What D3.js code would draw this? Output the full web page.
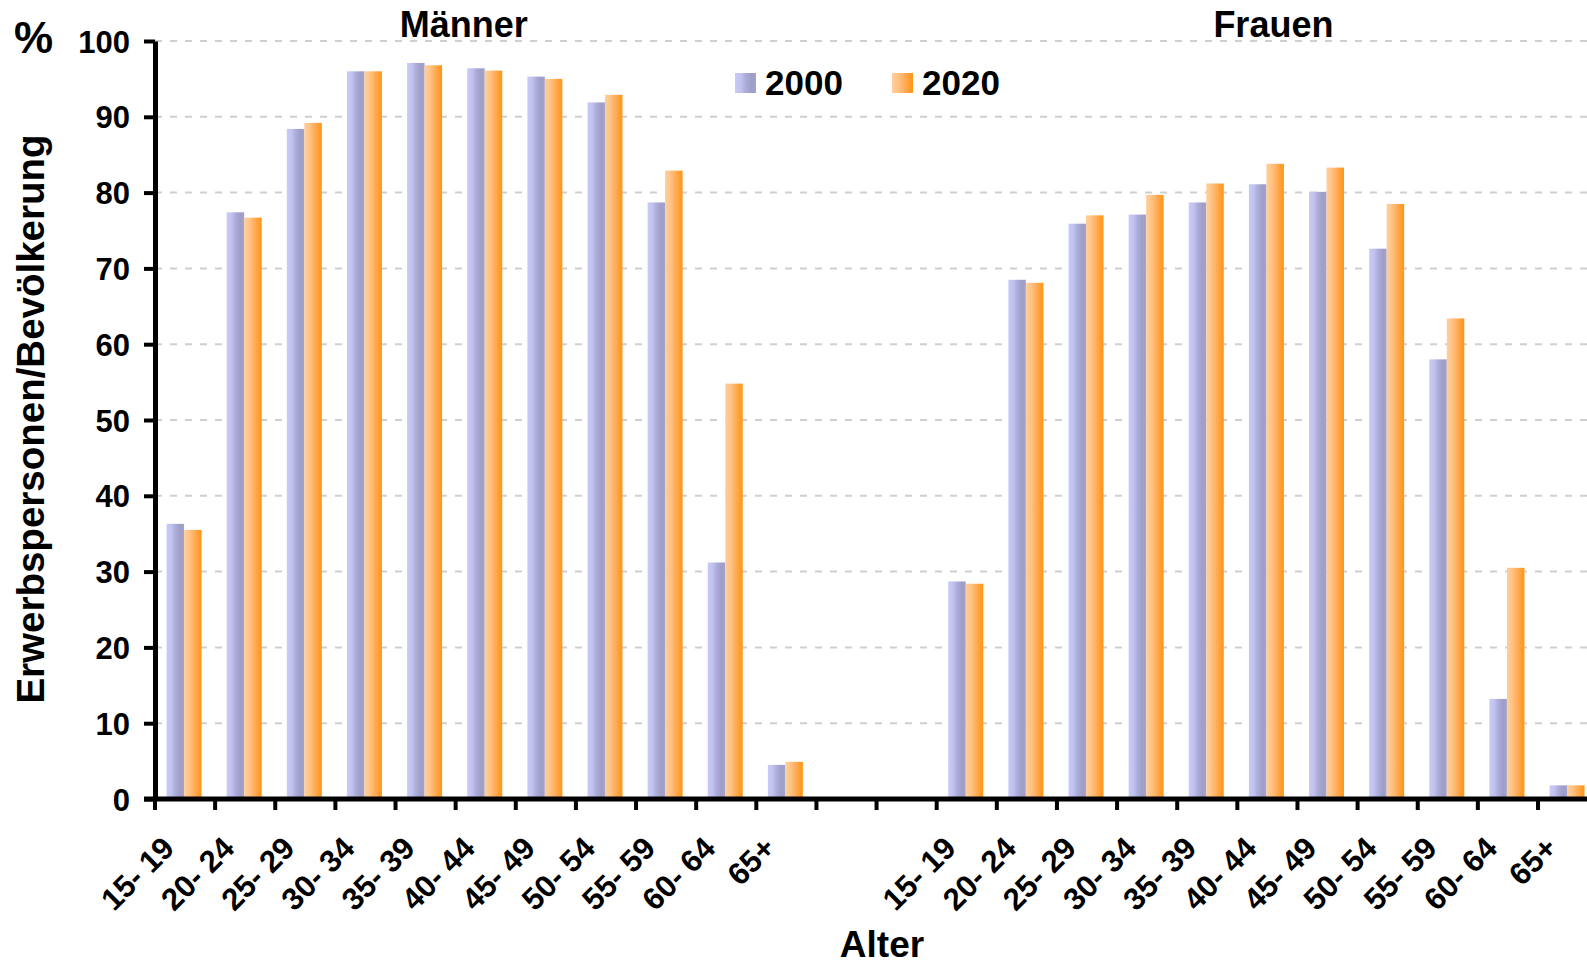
<!DOCTYPE html>
<html>
<head>
<meta charset="utf-8">
<script src="https://cdn.jsdelivr.net/npm/d3@7"></script>
<style>
  html, body { margin: 0; padding: 0; background: #fff; }
  svg { display: block; font-family: "Liberation Sans", Arial, sans-serif; font-weight: bold; }
</style>
</head>
<body>
<svg id="chart"></svg>
<script>
// Labour force participation by age group (%), men and women, 2000 vs 2020
const ageGroups = ["15- 19", "20- 24", "25- 29", "30- 34", "35- 39", "40- 44",
                   "45- 49", "50- 54", "55- 59", "60- 64", "65+"];
const years = ["2000", "2020"];
const men2000   = [36.3, 77.4, 88.4, 96.0, 97.1, 96.4, 95.3, 91.9, 78.7, 31.2, 4.5];
const men2020   = [35.5, 76.7, 89.2, 96.0, 96.8, 96.1, 95.0, 92.9, 82.9, 54.8, 4.9];
const women2000 = [28.7, 68.5, 75.9, 77.1, 78.7, 81.1, 80.1, 72.6, 58.0, 13.2, 1.8];
const women2020 = [28.4, 68.1, 77.0, 79.7, 81.2, 83.8, 83.3, 78.5, 63.4, 30.5, 1.8];
const groupTitles = ["Männer", "Frauen"];
const yTicks = [0, 10, 20, 30, 40, 50, 60, 70, 80, 90, 100];

const W = 1587, H = 966;
const plotLeft = 155, plotTop = 41, plotBottom = 799;
const slotStep = 60.13;

// One slot per category; two empty slots separate the two groups
const slots = [];
ageGroups.forEach((a, i) => slots.push({ key: "M" + i, label: a, v: [men2000[i], men2020[i]] }));
slots.push({ key: "gap1", label: null, v: null });
slots.push({ key: "gap2", label: null, v: null });
ageGroups.forEach((a, i) => slots.push({ key: "F" + i, label: a, v: [women2000[i], women2020[i]] }));

const svg = d3.select("#chart").attr("width", W).attr("height", H);

const x0 = d3.scaleBand()
  .domain(slots.map(d => d.key))
  .range([plotLeft, plotLeft + slots.length * slotStep])
  .padding(0);
const x1 = d3.scaleBand()
  .domain(years)
  .range([0, x0.bandwidth()])
  .paddingInner(0)
  .paddingOuter(0.718)
  .align(0.46);
const y = d3.scaleLinear().domain([0, 100]).range([plotBottom, plotTop]);

// Bar gradients
const defs = svg.append("defs");
const gradStops = {
  "2000": [[0, "#cacafa"], [0.28, "#c2c2f0"], [0.5, "#adadda"], [0.78, "#9e9ec8"], [1, "#a2a2cc"]],
  "2020": [[0, "#ffcf9c"], [0.3, "#ffc385"], [0.6, "#ffac58"], [0.85, "#ff9c2c"], [1, "#ff9612"]]
};
years.forEach(yr => {
  const g = defs.append("linearGradient").attr("id", "grad" + yr)
    .attr("x1", "0%").attr("x2", "100%").attr("y1", "0%").attr("y2", "0%");
  gradStops[yr].forEach(s => g.append("stop").attr("offset", s[0]).attr("stop-color", s[1]));
});

// Horizontal dashed gridlines
svg.append("g").selectAll("line")
  .data(yTicks.filter(t => t > 0))
  .join("line")
  .attr("x1", plotLeft).attr("x2", W)
  .attr("y1", d => y(d)).attr("y2", d => y(d))
  .attr("stroke", "#cfcfcf").attr("stroke-width", 2)
  .attr("stroke-dasharray", "7,8");

// Bars
const groups = svg.append("g").selectAll("g")
  .data(slots.filter(d => d.v))
  .join("g")
  .attr("transform", d => `translate(${x0(d.key)},0)`);
groups.selectAll("rect")
  .data(d => years.map((yr, i) => ({ yr, val: d.v[i] })))
  .join("rect")
  .attr("x", d => x1(d.yr))
  .attr("width", x1.bandwidth())
  .attr("y", d => y(d.val))
  .attr("height", d => y(0) - y(d.val))
  .attr("fill", d => `url(#grad${d.yr})`);

// Y axis
const yAxis = svg.append("g")
  .attr("transform", `translate(${plotLeft},0)`)
  .call(d3.axisLeft(y).tickValues(yTicks).tickSize(11).tickSizeOuter(0).tickPadding(14));
yAxis.select(".domain").attr("stroke", "#000").attr("stroke-width", 5);
yAxis.selectAll(".tick line").attr("stroke", "#000").attr("stroke-width", 4);
yAxis.selectAll(".tick text")
  .attr("font-family", "Liberation Sans, Arial, sans-serif")
  .attr("font-weight", "bold").attr("font-size", 31).attr("fill", "#000")
  .attr("dy", "0.36em");

// X axis line and tick marks between categories
const bounds = slots.map(d => x0(d.key)).concat([x0(slots[slots.length - 1].key) + x0.bandwidth()]);
svg.append("line")
  .attr("x1", plotLeft - 11).attr("x2", W)
  .attr("y1", plotBottom).attr("y2", plotBottom)
  .attr("stroke", "#000").attr("stroke-width", 5);
svg.append("g").selectAll("line")
  .data(bounds)
  .join("line")
  .attr("x1", d => d).attr("x2", d => d)
  .attr("y1", plotBottom).attr("y2", plotBottom + 11)
  .attr("stroke", "#000").attr("stroke-width", 4);

// Category labels, rotated
svg.append("g").selectAll("text")
  .data(slots.filter(d => d.label))
  .join("text")
  .attr("transform", d => `translate(${x0(d.key) + x0.bandwidth() / 2 - 9},${850}) rotate(-45)`)
  .attr("text-anchor", "end")
  .attr("font-size", 31)
  .text(d => d.label);

// Group titles
const titleX = [x0("M5") + x0.bandwidth() / 2 - 22, x0("F5") + x0.bandwidth() / 2 + 6];
svg.append("g").selectAll("text")
  .data(groupTitles)
  .join("text")
  .attr("x", (d, i) => titleX[i])
  .attr("y", 37)
  .attr("text-anchor", "middle")
  .attr("font-size", 36)
  .text(d => d);

// Legend
const legend = svg.append("g");
const legendPos = [735, 892];
years.forEach((yr, i) => {
  legend.append("rect")
    .attr("x", legendPos[i]).attr("y", 73).attr("width", 21).attr("height", 20)
    .attr("fill", `url(#grad${yr})`);
  legend.append("text")
    .attr("x", legendPos[i] + 30).attr("y", 95)
    .attr("font-size", 35)
    .text(yr);
});

// Axis titles
svg.append("text").attr("x", 14).attr("y", 53).attr("font-size", 44).text("%");
svg.append("text")
  .attr("transform", "translate(44,419) rotate(-90)")
  .attr("text-anchor", "middle")
  .attr("font-size", 38.5)
  .text("Erwerbspersonen/Bevölkerung");
svg.append("text")
  .attr("x", 882).attr("y", 957)
  .attr("text-anchor", "middle")
  .attr("font-size", 37)
  .text("Alter");
</script>
</body>
</html>
